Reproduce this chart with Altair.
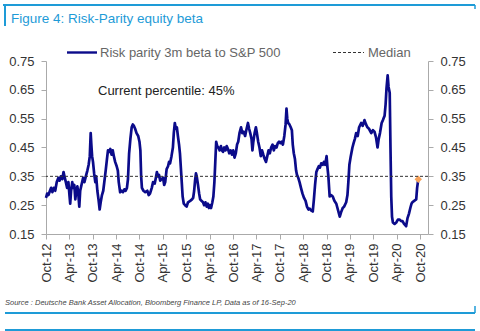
import altair as alt
import pandas as pd

# ---------------- data ----------------
dates = [
    "2012-10-01","2012-10-10","2012-10-20","2012-11-01","2012-11-10","2012-11-20","2012-12-01","2012-12-12","2012-12-24",
    "2013-01-06","2013-01-15","2013-01-25","2013-02-05","2013-02-15","2013-02-22","2013-03-05","2013-03-15","2013-03-25",
    "2013-04-03","2013-04-08","2013-04-15","2013-04-24","2013-05-01","2013-05-10","2013-05-18","2013-05-25","2013-06-03",
    "2013-06-10","2013-06-18","2013-06-25","2013-07-05","2013-07-18","2013-07-28","2013-08-08","2013-08-20","2013-08-30",
    "2013-09-08","2013-09-15","2013-09-20","2013-09-26","2013-10-03","2013-10-12","2013-10-21","2013-10-28","2013-11-06",
    "2013-11-15","2013-11-24","2013-12-02","2013-12-12","2013-12-22","2014-01-02","2014-01-10","2014-01-20","2014-01-28",
    "2014-02-06","2014-02-15","2014-02-25","2014-03-06","2014-03-15","2014-03-25","2014-04-06","2014-04-15","2014-04-22",
    "2014-05-03","2014-05-15","2014-05-25","2014-06-05","2014-06-15","2014-06-25","2014-07-03","2014-07-12","2014-07-22",
    "2014-08-01","2014-08-10","2014-08-18","2014-08-28","2014-09-08","2014-09-21","2014-10-01","2014-10-08","2014-10-14",
    "2014-10-20","2014-11-01","2014-11-15","2014-12-01","2014-12-12","2014-12-22","2015-01-05","2015-01-15","2015-01-28",
    "2015-02-06","2015-02-14","2015-02-22","2015-03-02","2015-03-12","2015-03-22","2015-04-03","2015-04-12","2015-04-20",
    "2015-05-01","2015-05-12","2015-05-20","2015-05-28","2015-06-08","2015-06-19","2015-06-26","2015-07-04","2015-07-12",
    "2015-07-20","2015-07-28","2015-08-06","2015-08-13","2015-08-20","2015-08-27","2015-09-03","2015-09-12","2015-09-22",
    "2015-10-04","2015-10-15","2015-11-01","2015-11-15","2015-11-24","2015-12-02","2015-12-09","2015-12-16","2015-12-22",
    "2016-01-01","2016-01-10","2016-01-18","2016-01-28","2016-02-09","2016-02-18","2016-02-28","2016-03-09","2016-03-18",
    "2016-03-26","2016-04-03","2016-04-12","2016-04-22","2016-04-30","2016-05-08","2016-05-15","2016-05-22","2016-05-30",
    "2016-06-08","2016-06-18","2016-06-28","2016-07-06","2016-07-14","2016-07-24","2016-08-03","2016-08-12","2016-08-22",
    "2016-09-01","2016-09-12","2016-09-22","2016-10-02","2016-10-12","2016-10-22","2016-11-01","2016-11-10","2016-11-20",
    "2016-12-02","2016-12-12","2016-12-22","2017-01-03","2017-01-12","2017-01-25","2017-02-03","2017-02-12","2017-02-22",
    "2017-03-01","2017-03-08","2017-03-18","2017-03-28","2017-04-05","2017-04-15","2017-04-25","2017-05-05","2017-05-15",
    "2017-05-25","2017-06-05","2017-06-15","2017-06-25","2017-07-05","2017-07-15","2017-07-25","2017-08-05","2017-08-15",
    "2017-08-25","2017-09-05","2017-09-15","2017-09-25","2017-10-05","2017-10-15","2017-10-25","2017-11-05","2017-11-15",
    "2017-11-22","2017-11-28","2017-12-05","2017-12-15","2017-12-25","2018-01-03","2018-01-10","2018-01-18","2018-01-27",
    "2018-02-05","2018-02-12","2018-02-22","2018-03-04","2018-03-15","2018-03-27","2018-04-08","2018-04-20","2018-05-01",
    "2018-05-12","2018-05-22","2018-06-02","2018-06-15","2018-06-24","2018-07-03","2018-07-13","2018-07-22","2018-08-01",
    "2018-08-10","2018-08-20","2018-09-01","2018-09-10","2018-09-20","2018-10-01","2018-10-08","2018-10-15","2018-10-25",
    "2018-11-05","2018-11-18","2018-12-01","2018-12-16","2018-12-28","2019-01-12","2019-01-22","2019-02-04","2019-02-15",
    "2019-03-03","2019-03-13","2019-03-20","2019-03-28","2019-04-08","2019-04-21","2019-04-30","2019-05-10","2019-05-20",
    "2019-06-01","2019-06-12","2019-06-28","2019-07-10","2019-07-24","2019-08-05","2019-08-16","2019-08-28","2019-09-15",
    "2019-09-28","2019-10-10","2019-10-22","2019-11-03","2019-11-12","2019-11-22","2019-12-05","2019-12-15","2019-12-28",
    "2020-01-05","2020-01-12","2020-01-21","2020-01-28","2020-02-06","2020-02-12","2020-02-18","2020-02-24","2020-03-02",
    "2020-03-15","2020-03-28","2020-04-10","2020-04-22","2020-05-05","2020-05-16","2020-05-28","2020-06-13","2020-06-24",
    "2020-07-05","2020-07-16","2020-07-25","2020-08-01","2020-08-15","2020-08-31","2020-09-07","2020-09-16",
]
beta = [
    0.275,0.29,0.285,0.30,0.31,0.295,0.31,0.30,0.33,
    0.345,0.335,0.35,0.34,0.365,0.35,0.33,0.31,0.33,
    0.28,0.255,0.30,0.33,0.31,0.32,0.27,0.30,0.315,
    0.29,0.245,0.30,0.32,0.345,0.33,0.35,0.37,0.39,
    0.42,0.50,0.46,0.42,0.40,0.36,0.33,0.35,0.30,
    0.27,0.235,0.26,0.285,0.30,0.34,0.37,0.41,0.44,
    0.435,0.445,0.425,0.44,0.42,0.40,0.385,0.37,0.33,
    0.295,0.30,0.295,0.305,0.30,0.31,0.34,0.43,0.48,
    0.52,0.53,0.525,0.515,0.50,0.49,0.47,0.44,0.35,
    0.31,0.30,0.295,0.30,0.285,0.29,0.31,0.33,0.325,
    0.345,0.365,0.35,0.355,0.335,0.34,0.345,0.32,0.33,
    0.375,0.385,0.40,0.395,0.42,0.45,0.50,0.535,0.515,
    0.52,0.49,0.46,0.43,0.38,0.33,0.28,0.255,0.25,
    0.245,0.26,0.265,0.27,0.275,0.30,0.335,0.36,0.35,
    0.32,0.29,0.27,0.265,0.26,0.25,0.26,0.245,0.255,
    0.24,0.25,0.24,0.26,0.28,0.33,0.40,0.47,0.455,
    0.45,0.44,0.455,0.44,0.435,0.45,0.44,0.455,0.445,
    0.43,0.44,0.425,0.44,0.415,0.43,0.46,0.47,0.50,
    0.52,0.50,0.505,0.49,0.51,0.535,0.515,0.50,0.48,
    0.44,0.47,0.50,0.52,0.50,0.47,0.45,0.42,0.44,
    0.425,0.41,0.40,0.42,0.44,0.43,0.45,0.46,0.44,
    0.455,0.45,0.465,0.47,0.465,0.47,0.46,0.49,0.53,
    0.585,0.55,0.535,0.53,0.52,0.51,0.46,0.43,0.41,
    0.37,0.355,0.345,0.33,0.31,0.29,0.275,0.265,0.245,
    0.235,0.238,0.232,0.228,0.27,0.32,0.365,0.375,0.385,
    0.38,0.395,0.39,0.40,0.39,0.42,0.38,0.35,0.28,
    0.285,0.28,0.265,0.255,0.235,0.21,0.225,0.24,0.245,
    0.26,0.285,0.33,0.39,0.42,0.45,0.465,0.48,0.50,
    0.49,0.52,0.535,0.525,0.545,0.53,0.52,0.515,0.50,
    0.51,0.505,0.485,0.45,0.48,0.50,0.535,0.545,0.56,
    0.60,0.655,0.70,0.66,0.64,0.45,0.28,0.21,0.19,
    0.185,0.19,0.20,0.20,0.195,0.195,0.185,0.177,0.205,
    0.22,0.24,0.255,0.26,0.265,0.27,0.31,0.34,
]
median_value = 0.35
current_date = ["2020-09-16"]
current_value = [0.34]
y_ticks = [0.15, 0.25, 0.35, 0.45, 0.55, 0.65, 0.75]
x_tick_dates = ["2012-10-01", "2013-04-01", "2013-10-01", "2014-04-01", "2014-10-01",
                "2015-04-01", "2015-10-01", "2016-04-01", "2016-10-01", "2017-04-01",
                "2017-10-01", "2018-04-01", "2018-10-01", "2019-04-01", "2019-10-01",
                "2020-04-01", "2020-10-01"]

title_text = "Figure 4: Risk-Parity equity beta"
legend_line = "Risk parity 3m beta to S&P 500"
legend_median = "Median"
note_text = "Current percentile: 45%"
source_text = "Source : Deutsche Bank Asset Allocation, Bloomberg Finance LP, Data as of 16-Sep-20"

df = pd.DataFrame({"date": [d + "T00:00:00" for d in dates], "beta": beta})
df_cur = pd.DataFrame({"date": [d + "T00:00:00" for d in current_date], "beta": current_value})

FONT = "Liberation Sans"
NAVY = "#0b0b8a"
BLUE = "#1e9bd7"

W, H = 382, 173
PL, PT = 46, 61


def dt(s):
    y, m, d = (int(v) for v in s.split("-"))
    return alt.DateTime(year=y, month=m, date=d)


x_scale = alt.Scale(domain=[dt("2012-10-01"), dt("2020-12-01")])
y_scale = alt.Scale(domain=[0.15, 0.75], nice=False, zero=False)

x_axis = alt.Axis(
    values=[dt(s) for s in x_tick_dates],
    format="%b-%y", labelAngle=-90, labelFontSize=13, labelColor="#333333",
    labelFont=FONT, tickSize=5, tickColor="#aaaaaa", domainColor="#aaaaaa",
    labelPadding=4, grid=False, title=None, labelOverlap=False, labelBound=False,
    labelFlush=False,
)


def y_axis(orient):
    return alt.Axis(values=y_ticks, format=".2f", orient=orient, labelFontSize=13,
                    labelColor="#333333", labelFont=FONT, tickSize=5,
                    tickColor="#aaaaaa", domainColor="#aaaaaa", labelPadding=7,
                    grid=False, title=None, labelOverlap=False)


line = alt.Chart(df).mark_line(color=NAVY, strokeWidth=2.7, interpolate="linear",
                               strokeJoin="round").encode(
    x=alt.X("date:T", scale=x_scale, axis=x_axis),
    y=alt.Y("beta:Q", scale=y_scale, axis=y_axis("left")),
)

marker = alt.Chart(df_cur).mark_point(shape="diamond", filled=True, color="#f7a35c",
                                      size=55, opacity=1).encode(
    x=alt.X("date:T", scale=x_scale, axis=x_axis),
    y=alt.Y("beta:Q", scale=y_scale, axis=None),
)

median = alt.Chart(pd.DataFrame({"m": [median_value]})).mark_rule(
    color="#333333", strokeWidth=1, strokeDash=[3, 2]).encode(
    y=alt.Y("m:Q", scale=y_scale, axis=y_axis("right")),
)


def rule(x1, x2, y1, y2, color, width, dash=None):
    kw = dict(color=color, strokeWidth=width)
    if dash:
        kw["strokeDash"] = dash
    return alt.Chart(pd.DataFrame({"a": [0]})).mark_rule(**kw).encode(
        x=alt.value(x1 - PL), x2=alt.value(x2 - PL),
        y=alt.value(y1 - PT), y2=alt.value(y2 - PT))


def text(t, x, y, size, color, style="normal", align="left"):
    return alt.Chart(pd.DataFrame({"t": [t]})).mark_text(
        fontSize=size, color=color, font=FONT, fontStyle=style, align=align,
        baseline="middle").encode(text="t:N", x=alt.value(x - PL), y=alt.value(y - PT))


decor = [
    rule(3, 475, 5, 5, BLUE, 2),
    rule(5, 5, 5, 26, BLUE, 2),
    rule(475, 475, 5, 9, BLUE, 1.5),
    rule(5, 475, 313, 313, BLUE, 2),
    rule(475, 475, 306, 313, BLUE, 1.5),
    rule(5, 475, 330, 330, BLUE, 2),
    text(title_text, 11, 18.5, 13.5, BLUE),
    rule(67, 97, 52.5, 52.5, NAVY, 2.4),
    text(legend_line, 100, 52.5, 13, "#666666"),
    rule(333, 364, 52.5, 52.5, "#333333", 1, [3, 2]),
    text(legend_median, 368, 52.5, 13, "#666666"),
    text(note_text, 98, 90.5, 13, "#222222"),
    text(source_text, 5, 302.5, 7.5, "#444444", style="italic"),
]

chart = alt.layer(line, marker, median, *decor).resolve_scale(y="independent").properties(
    width=W, height=H,
    autosize=alt.AutoSizeParams(type="none"),
    padding={"left": PL, "top": PT, "right": 480 - PL - W, "bottom": 331 - PT - H},
    background="white",
).configure_view(strokeWidth=0).configure_axis(labelOverlap=False)

chart.save("out.html", embed_options={"renderer": "svg", "actions": False})
